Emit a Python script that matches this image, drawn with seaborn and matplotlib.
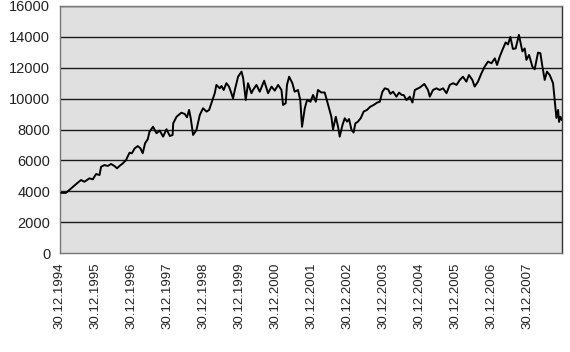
import warnings
warnings.simplefilter(action='ignore', category=FutureWarning)

import matplotlib
matplotlib.use('Agg')
import pandas as pd
import matplotlib.pyplot as plt
import seaborn as sns

# values
dates = [
    '1995-01-12', '1995-03-02', '1995-04-23', '1995-05-30', '1995-06-30', '1995-08-02',
    '1995-09-06', '1995-10-27', '1995-11-30', '1996-01-02', '1996-02-06', '1996-02-22',
    '1996-03-27', '1996-04-30', '1996-06-02', '1996-07-07', '1996-08-02', '1996-08-27',
    '1996-09-30', '1996-11-02', '1996-12-07', '1996-12-31', '1997-01-28', '1997-03-01',
    '1997-03-28', '1997-04-20', '1997-05-14', '1997-06-10', '1997-06-28', '1997-08-03',
    '1997-09-07', '1997-10-10', '1997-11-13', '1997-12-18', '1998-01-21', '1998-02-18',
    '1998-02-24', '1998-03-30', '1998-05-18', '1998-06-21', '1998-07-14', '1998-08-04',
    '1998-08-21', '1998-09-14', '1998-10-18', '1998-11-21', '1998-12-24', '1999-01-29',
    '1999-02-24', '1999-03-30', '1999-04-22', '1999-05-09', '1999-06-11', '1999-06-29',
    '1999-07-22', '1999-08-18', '1999-09-14', '1999-10-08', '1999-10-25', '1999-11-12',
    '1999-12-15', '2000-01-19', '2000-02-05', '2000-03-02', '2000-03-25', '2000-04-29',
    '2000-05-15', '2000-06-19', '2000-07-22', '2000-09-05', '2000-10-15', '2000-11-19',
    '2000-12-22', '2001-01-25', '2001-02-28', '2001-03-16', '2001-04-12', '2001-04-25',
    '2001-05-17', '2001-06-19', '2001-07-12', '2001-08-15', '2001-09-07', '2001-09-25',
    '2001-10-23', '2001-11-15', '2001-12-20', '2002-01-15', '2002-02-12', '2002-03-06',
    '2002-04-09', '2002-05-13', '2002-05-30', '2002-06-26', '2002-07-20', '2002-08-06',
    '2002-09-03', '2002-09-26', '2002-10-13', '2002-11-10', '2002-12-03', '2002-12-27',
    '2003-01-16', '2003-02-10', '2003-03-03', '2003-03-21', '2003-04-16', '2003-05-14',
    '2003-06-13', '2003-07-17', '2003-08-20', '2003-09-23', '2003-10-27', '2003-11-24',
    '2003-12-21', '2004-01-14', '2004-02-17', '2004-03-11', '2004-04-07', '2004-05-11',
    '2004-06-07', '2004-07-04', '2004-07-24', '2004-08-21', '2004-09-24', '2004-10-21',
    '2004-11-14', '2005-01-04', '2005-02-19', '2005-03-28', '2005-04-15', '2005-05-18',
    '2005-06-22', '2005-07-25', '2005-08-28', '2005-10-02', '2005-11-04', '2005-12-08',
    '2006-01-12', '2006-02-14', '2006-03-18', '2006-04-22', '2006-05-18', '2006-06-22',
    '2006-07-15', '2006-08-18', '2006-09-22', '2006-10-25', '2006-11-28', '2007-01-02',
    '2007-02-05', '2007-02-28', '2007-03-27', '2007-04-23', '2007-05-26', '2007-06-19',
    '2007-07-13', '2007-08-08', '2007-09-05', '2007-10-08', '2007-11-12', '2007-12-06',
    '2007-12-23', '2008-01-19', '2008-02-22', '2008-03-16', '2008-04-19', '2008-05-13',
    '2008-06-03', '2008-06-26', '2008-07-19', '2008-08-16', '2008-09-19', '2008-10-06',
    '2008-10-23', '2008-11-09', '2008-11-19', '2008-12-03', '2008-12-16',
]
values = [
    3900, 3900, 4190, 4400, 4560, 4730,
    4620, 4840, 4775, 5120, 5055, 5590,
    5700, 5640, 5770, 5640, 5490, 5640,
    5810, 6030, 6500, 6460, 6780, 6930,
    6780, 6460, 7110, 7370, 7860, 8180,
    7760, 7930, 7540, 8020, 7580, 7650,
    8400, 8830, 9090, 9010, 8790, 9270,
    8730, 7650, 7970, 8940, 9380, 9160,
    9270, 9910, 10350, 10890, 10670, 10820,
    10560, 11000, 10780, 10350, 10020, 10560,
    11420, 11750, 11320, 9910, 11000, 10350,
    10560, 10890, 10450, 11160, 10350, 10780,
    10520, 10890, 10560, 9590, 9700, 10890,
    11420, 11000, 10450, 10560, 9910, 8180,
    9380, 9910, 9800, 10240, 9800, 10560,
    10400, 10400, 10020, 9380, 8830, 8010,
    8830, 8180, 7540, 8290, 8730, 8510,
    8680, 7970, 7810, 8400, 8510, 8730,
    9160, 9270, 9480, 9590, 9740, 9800,
    10450, 10670, 10600, 10310, 10450, 10130,
    10390, 10240, 10240, 9910, 10130, 9750,
    10560, 10720, 10950, 10560, 10130, 10560,
    10670, 10560, 10670, 10350, 10890, 11000,
    10890, 11210, 11420, 11100, 11530, 11210,
    10780, 11100, 11640, 12070, 12400, 12290,
    12610, 12180, 12720, 13150, 13640, 13510,
    14000, 13220, 13250, 14130, 13060, 13250,
    12510, 12830, 12070, 11900, 12980, 12940,
    12070, 11210, 11750, 11530, 11000, 9910,
    8750, 9270, 8490, 8830, 8620,
]
tick_dates = [
    '1994-12-30', '1995-12-30', '1996-12-30', '1997-12-30', '1998-12-30',
    '1999-12-30', '2000-12-30', '2001-12-30', '2002-12-30', '2003-12-30',
    '2004-12-30', '2005-12-30', '2006-12-30', '2007-12-30',
]
tick_labels = [
    '30.12.1994', '30.12.1995', '30.12.1996', '30.12.1997', '30.12.1998',
    '30.12.1999', '30.12.2000', '30.12.2001', '30.12.2002', '30.12.2003',
    '30.12.2004', '30.12.2005', '30.12.2006', '30.12.2007',
]
y_ticks = [0, 2000, 4000, 6000, 8000, 10000, 12000, 14000, 16000]

df = pd.DataFrame({'date': pd.to_datetime(dates), 'value': values})

sns.set_style('white')
plt.rcParams['font.family'] = ['Liberation Sans', 'DejaVu Sans']

fig = plt.figure(figsize=(5.70, 3.52), dpi=100)
ax = fig.add_axes([0.105, 0.281, 0.881, 0.702])
ax.set_facecolor('#e0e0e0')

# horizontal grid lines
for y in y_ticks[1:]:
    ax.axhline(y, color='#1a1a1a', linewidth=1.0, zorder=1)

sns.lineplot(x='date', y='value', data=df, color='black', linewidth=1.4, ax=ax, zorder=3)

ax.set_xlim(pd.Timestamp('1994-12-30'), pd.Timestamp('2008-12-19'))
ax.set_ylim(0, 16000)
ax.set_xticks(pd.to_datetime(tick_dates))
ax.set_xticklabels(tick_labels, rotation=90, fontsize=9.5, color='#222222')
ax.set_yticks(y_ticks)
ax.set_yticklabels([str(v) for v in y_ticks], fontsize=10.5, color='#222222')
ax.set_xlabel('')
ax.set_ylabel('')

for side in ['left', 'bottom', 'top', 'right']:
    ax.spines[side].set_color('#777777')
    ax.spines[side].set_linewidth(1.0)
ax.spines['right'].set_color('#333333')
ax.tick_params(axis='both', direction='out', length=4, width=1, color='#777777', pad=3)

plt.savefig('out.png', dpi=100)
